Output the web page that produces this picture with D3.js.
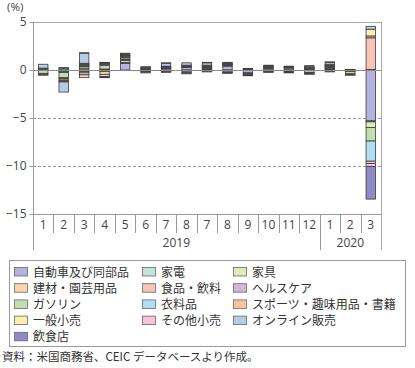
<!DOCTYPE html>
<html><head><meta charset="utf-8">
<script src="https://cdn.jsdelivr.net/npm/d3@7"></script>
<style>
html,body{margin:0;padding:0;background:#fff;}
text{font-family:"Noto Sans CJK JP","Noto Sans",sans-serif;}
</style></head>
<body><svg id="c" width="415" height="368"></svg>
<script>
// ---- data ----
const monthLabels = ["1","2","3","4","5","6","7","8","7","8","9","10","11","12","1","2","3"];
const years = [{label:"2019", from:0, to:13},{label:"2020", from:14, to:16}];
const seriesNames = ["自動車及び同部品","家電","家具","建材・園芸用品","食品・飲料","ヘルスケア","ガソリン","衣料品","スポーツ・趣味用品・書籍","一般小売","その他小売","オンライン販売","飲食店"];
const seriesColors = ["#b4b2de","#bfe6d6","#dcecb4","#fbd6a6","#f8c4b8","#d4b6d9","#bfe0ae","#aedff4","#f9c39e","#fdf0a9","#f6c1d9","#b4ccea","#8f89c5"];
const autoParts   = [0.05,0.2,0.2,-0.1,0.7,0.1,0.15,0.25,0.1,0.4,-0.3,0.15,0.2,-0.25,0.1,-0.05,-5.3];
const electronics = [-0.05,-0.1,-0.1,0.05,0.05,-0.05,0.05,0.05,0,0.05,0.05,0.05,-0.05,0.05,0.05,-0.05,-0.1];
const furniture   = [0,-0.05,-0.05,-0.05,0.05,0,0,0.05,-0.05,0.05,-0.05,0,0,-0.05,0.05,0,-0.6];
const building    = [0.1,0,0.15,-0.3,0.2,0.05,0.05,0.05,0.05,0.05,-0.05,0.05,0.05,0.05,0.1,-0.05,0.05];
const foodBev     = [0.05,-0.1,0.1,-0.25,0.1,0.05,0.05,0.05,0.1,0.05,0.05,0.05,0.05,0.05,0.05,0.05,3.3];
const health      = [0,0,0.1,0.05,0.05,0.05,0.05,0,0.05,0.05,0,0.05,0.05,0.05,0.05,0,0.2];
const gasoline    = [-0.3,-0.55,0.1,0.4,0.15,-0.1,-0.1,-0.2,0.1,-0.2,-0.1,0.1,-0.1,0.05,-0.1,-0.25,-1.4];
const clothing    = [-0.1,-0.1,-0.15,0.05,0.05,-0.05,0.05,-0.1,-0.05,-0.05,-0.05,-0.1,-0.05,-0.05,0.05,-0.05,-2.1];
const sports      = [0,-0.15,0.05,-0.05,0.05,0,-0.05,0,0.05,-0.05,-0.05,-0.05,-0.05,-0.05,0.05,-0.05,-0.25];
const generalMer  = [0,-0.1,-0.2,-0.05,0.1,-0.1,0,0.05,0.05,0,0,-0.05,-0.05,-0.05,0.1,-0.05,0.7];
const otherRetail = [-0.1,-0.1,-0.3,0.1,0.05,0,-0.1,-0.1,-0.1,-0.05,0,-0.05,0,0,-0.1,0,-0.3];
const online      = [0.4,-1.05,1.05,0.1,0.1,0.1,0.3,0.25,0.25,0.1,0.05,0.05,0.05,0.15,0.2,0,0.3];
const restaurants = [0,0.05,0.05,0.05,0.1,0,0.05,0,0.05,0.05,0,0,0,0.05,0.05,0,-3.4];
const seriesValues = [autoParts,electronics,furniture,building,foodBev,health,gasoline,clothing,sports,generalMer,otherRetail,online,restaurants];
const yTicks = [5,0,-5,-10,-15];

// ---- layout ----
const svg = d3.select("#c");
const L = 33, R = 381, T = 22, B = 214;
const x = d3.scaleBand().domain(d3.range(monthLabels.length)).range([L,R]).paddingInner(0.54).paddingOuter(0.27);
const xStep = (R-L)/monthLabels.length;
const y = d3.scaleLinear().domain([-15,5]).range([B,T]);

const rows = monthLabels.map((m,i)=>{const o={i}; seriesValues.forEach((s,k)=>o[k]=s[i]); return o;});
const stack = d3.stack().keys(d3.range(seriesNames.length)).offset(d3.stackOffsetDiverging);
const stacked = stack(rows);

// gridlines
svg.append("g").selectAll("line").data([-5,-10]).join("line")
  .attr("x1",L).attr("x2",R).attr("y1",d=>y(d)+0.5).attr("y2",d=>y(d)+0.5)
  .attr("stroke","#9a9a9a").attr("stroke-dasharray","3,2").attr("stroke-width",1);
svg.append("line").attr("x1",L).attr("x2",R).attr("y1",y(5)+0.5).attr("y2",y(5)+0.5).attr("stroke","#aaa");
svg.append("line").attr("x1",R+0.5).attr("x2",R+0.5).attr("y1",T).attr("y2",250).attr("stroke","#aaa");

// bars
svg.append("g").selectAll("g").data(stacked).join("g")
  .attr("fill",(d,k)=>seriesColors[k])
  .selectAll("rect").data(d=>d.filter(p=>p[1]!==p[0])).join("rect")
  .attr("x",p=>x(p.data.i)).attr("width",x.bandwidth())
  .attr("y",p=>y(Math.max(p[0],p[1]))).attr("height",p=>Math.abs(y(p[0])-y(p[1])))
  .attr("stroke","#3c3c3c").attr("stroke-width",0.8);

svg.append("line").attr("x1",L).attr("x2",R).attr("y1",y(0)+0.5).attr("y2",y(0)+0.5).attr("stroke","#8a8a8a");

// y axis
const yAxis = d3.axisLeft(y).tickValues(yTicks).tickSize(4).tickFormat(d3.format("d"));
const ga = svg.append("g").attr("transform",`translate(${L+0.5},0)`).call(yAxis);
ga.select(".domain").remove();
ga.selectAll(".tick line").attr("stroke","#999");
ga.selectAll(".tick text").attr("font-size",12).attr("fill","#444").attr("x",-7)
  .style("font-family","'Open Sans','Noto Sans',sans-serif");
svg.append("line").attr("x1",L+0.5).attr("x2",L+0.5).attr("y1",T).attr("y2",250).attr("stroke","#999");
svg.append("text").attr("x",7).attr("y",11).attr("font-size",11.5).attr("fill","#444").text("(%)")
  .style("font-family","'Open Sans','Noto Sans',sans-serif");

// x axis
svg.append("line").attr("x1",L).attr("x2",R).attr("y1",B+0.5).attr("y2",B+0.5).attr("stroke","#999");
const gx = svg.append("g");
gx.selectAll("line").data(d3.range(1,monthLabels.length)).join("line")
  .attr("x1",i=>Math.round(L+i*xStep)+0.5).attr("x2",i=>Math.round(L+i*xStep)+0.5)
  .attr("y1",B).attr("y2",d=>(d===14)?250:233).attr("stroke","#999");
gx.selectAll("text").data(monthLabels).join("text")
  .attr("x",(d,i)=>x(i)+x.bandwidth()/2).attr("y",229).attr("text-anchor","middle")
  .attr("font-size",12).attr("fill","#444").style("font-family","'Open Sans','Noto Sans',sans-serif")
  .text(d=>d);
svg.append("g").selectAll("text").data(years).join("text")
  .attr("x",d=>L+(d.from+d.to+1)/2*xStep).attr("y",247).attr("text-anchor","middle")
  .attr("font-size",12).attr("fill","#444").style("font-family","'Open Sans','Noto Sans',sans-serif")
  .text(d=>d.label);

// legend
const lg = svg.append("g");
lg.append("rect").attr("x",9.5).attr("y",260.5).attr("width",396).attr("height",86).attr("fill","none").attr("stroke","#999");
const colX = [14,142,233];
const items = lg.selectAll("g").data(seriesNames).join("g")
  .attr("transform",(d,k)=>`translate(${colX[k%3]},${267+Math.floor(k/3)*16.2})`);
items.append("rect").attr("x",0.5).attr("y",0.5).attr("width",13).attr("height",8.5)
  .attr("fill",(d,k)=>seriesColors[k]).attr("stroke","#666").attr("stroke-width",0.8);
items.append("text").attr("x",19).attr("y",9.5).attr("font-size",12).attr("fill","#333").text(d=>d);

svg.append("text").attr("x",2).attr("y",361).attr("font-size",11.5).attr("fill","#333")
  .text("資料：米国商務省、CEIC データベースより作成。");
</script></body></html>
